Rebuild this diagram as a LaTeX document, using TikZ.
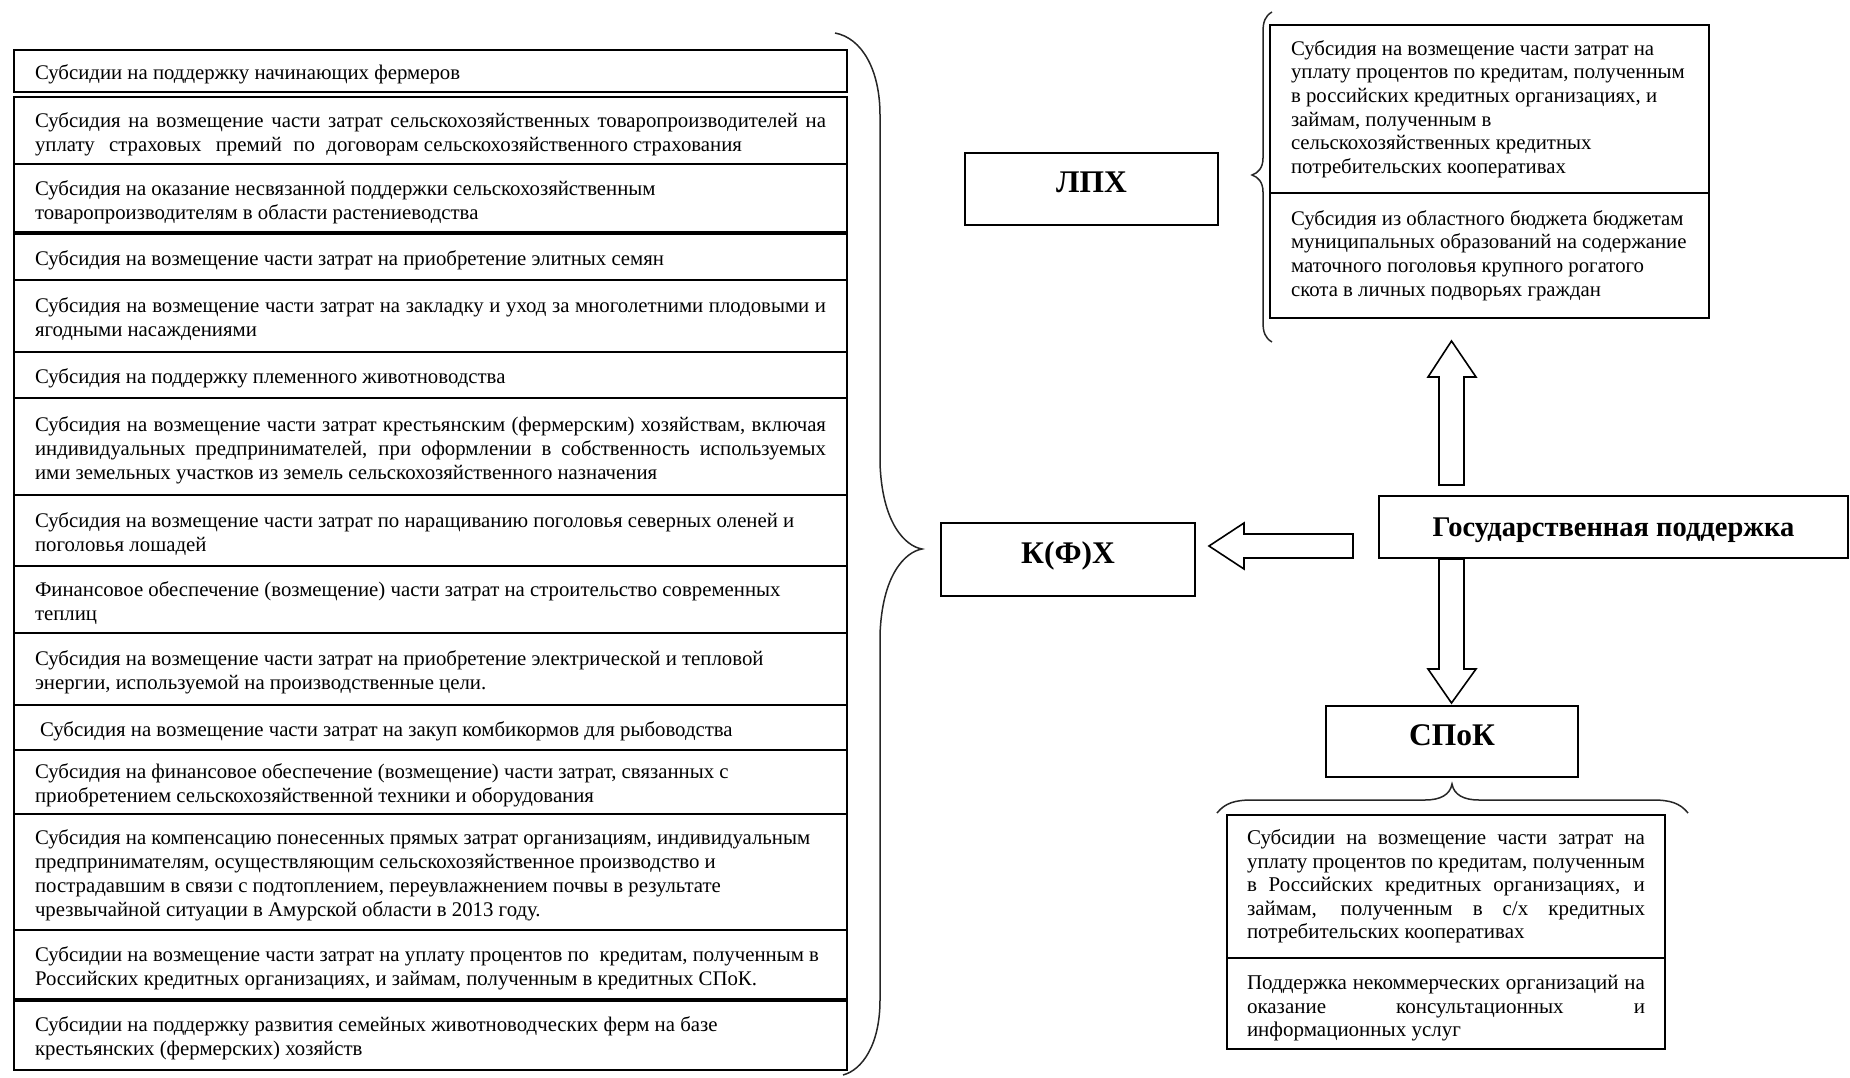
\documentclass[tikz,border=0pt]{standalone}
\usepackage{fontspec}
\setmainfont{Liberation Serif}
% justified line of given width
\newcommand{\jl}[2]{\leavevmode\hbox to #1{\spaceskip=.25em plus 1fil\relax\xspaceskip=.25em plus 1fil\relax #2}}
% natural line with ordinary word spaces
\newcommand{\nl}[1]{\leavevmode\mbox{\spaceskip=.25em\relax\xspaceskip=.25em\relax #1}}
\begin{document}
\begin{tikzpicture}[x=1pt,y=-1pt,
  every node/.style={outer sep=0pt},
  lbox/.style={draw, fill=white, line width=1.6pt, anchor=north west, inner xsep=21pt, inner ysep=0pt,
    text width=791pt, align=left, font=\fontsize{20.8}{24}\selectfont,
    execute at begin node={\rule{0pt}{22pt}}},
  rbox/.style={draw, fill=white, line width=1.6pt, anchor=north west, inner xsep=21pt, inner ysep=0pt,
    text width=397pt, align=left, font=\fontsize{20.8}{23.6}\selectfont},
  bbox/.style={draw, fill=white, line width=1.6pt, anchor=north west, inner xsep=20pt, inner ysep=0pt,
    text width=398pt, align=left, font=\fontsize{21}{23.6}\selectfont},
  labbox/.style={draw, fill=white, line width=1.6pt, anchor=north west, inner sep=0pt,
    font=\fontsize{31.5}{33}\selectfont\bfseries, text height=21pt, text depth=14pt},
  barrow/.style={draw, fill=white, line width=1.6pt, line join=miter},
  brc/.style={draw=black!85, line width=1.5pt},
  thickline/.style={line width=3.6pt}
]
\useasboundingbox (0,0) rectangle (1850,1077);

% ---------- left column ----------
\node[lbox, minimum height=42pt] (b1) at (14,50) {\nl{Субсидии на поддержку начинающих фермеров}};
\node[lbox, minimum height=67pt] (b2) at (14,97) {\jl{791pt}{Субсидия на возмещение части затрат сельскохозяйственных товаропроизводителей на}\\\leavevmode\hbox to 707pt{\spaceskip=.25em\relax уплату\hskip 6pt plus 3fil страховых\hskip 6pt plus 3fil премий\hskip 6pt plus 2fil по\hskip 6pt plus 2fil договорам сельскохозяйственного страхования}};
\node[lbox, minimum height=69pt] (b3) at (14,164) {\nl{Субсидия на оказание несвязанной поддержки сельскохозяйственным}\\\nl{товаропроизводителям в области растениеводства}};
\node[lbox, minimum height=47pt] (b4) at (14,233) {\nl{Субсидия на возмещение части затрат на приобретение элитных семян}};
\node[lbox, minimum height=72pt] (b5) at (14,280) {\jl{791pt}{Субсидия на возмещение части затрат на закладку и уход за многолетними плодовыми и}\\\nl{ягодными насаждениями}};
\node[lbox, minimum height=46pt] (b6) at (14,352) {\nl{Субсидия на поддержку племенного животноводства}};
\node[lbox, minimum height=97pt] (b7) at (14,398) {\jl{791pt}{Субсидия на возмещение части затрат крестьянским (фермерским) хозяйствам, включая}\\\jl{791pt}{индивидуальных предпринимателей, при оформлении в собственность используемых}\\\nl{ими земельных участков из земель сельскохозяйственного назначения}};
\node[lbox, minimum height=71pt] (b8) at (14,495) {\nl{Субсидия на возмещение части затрат по наращиванию поголовья северных оленей и}\\\nl{поголовья лошадей}};
\node[lbox, minimum height=67pt] (b9) at (14,566) {\nl{Финансовое обеспечение (возмещение) части затрат на строительство современных}\\\nl{теплиц}};
\node[lbox, minimum height=72pt] (b10) at (14,633) {\nl{Субсидия на возмещение части затрат на приобретение электрической и тепловой}\\\nl{энергии, используемой на производственные цели.}};
\node[lbox, minimum height=45pt] (b11) at (14,705) {\nl{\hspace{5pt}Субсидия на возмещение части затрат на закуп комбикормов для рыбоводства}};
\node[lbox, minimum height=64pt] (b12) at (14,750) {\nl{Субсидия на финансовое обеспечение (возмещение) части затрат, связанных с}\\\nl{приобретением сельскохозяйственной техники и оборудования}};
\node[lbox, minimum height=116pt] (b13) at (14,814) {\nl{Субсидия на компенсацию понесенных прямых затрат организациям, индивидуальным}\\\nl{предпринимателям, осуществляющим сельскохозяйственное производство и}\\\nl{пострадавшим в связи с подтоплением, переувлажнением почвы в результате}\\\nl{чрезвычайной ситуации в Амурской области в 2013 году.}};
\node[lbox, minimum height=70pt] (b14) at (14,930) {\nl{Субсидии на возмещение части затрат на уплату процентов по\ \ кредитам, полученным в}\\\nl{Российских кредитных организациях, и займам, полученным в кредитных СПоК.}};
\node[lbox, minimum height=70pt] (b15) at (14,1000) {\nl{Субсидии на поддержку развития семейных животноводческих ферм на базе}\\\nl{крестьянских (фермерских) хозяйств}};
\draw[thickline] (b3.south west) -- (b3.south east);
\draw[thickline] (b14.south west) -- (b14.south east);

% ---------- big left brace ----------
\draw[brc] (835,33) .. controls (862,38) and (880,70) .. (880,115)
  -- (880,463) .. controls (882,523) and (905,546) .. (922,549)
  .. controls (905,552) and (882,575) .. (880,635)
  -- (880,1000) .. controls (880,1045) and (862,1070) .. (843,1075);

% ---------- label boxes ----------
\node[labbox, minimum width=253pt, minimum height=72pt] (lph) at (965,153) {ЛПХ};
\node[labbox, minimum width=254pt, minimum height=73pt] (kfh) at (941,523) {К(Ф)Х};
\node[labbox, minimum width=252pt, minimum height=71pt] (spok) at (1326,706) {СПоК};
\node[draw, fill=white, line width=1.6pt, anchor=north west, inner sep=0pt, minimum width=469pt, minimum height=62pt,
  font=\fontsize{28.5}{30}\selectfont\bfseries, text height=19pt, text depth=0pt] (gov) at (1379,496) {\nl{Государственная поддержка}};

% ---------- right top boxes ----------
\node[rbox, minimum height=168pt] (ra) at (1270,25) {\nl{Субсидия на возмещение части затрат на}\\\nl{уплату процентов по кредитам, полученным}\\\nl{в российских кредитных организациях, и}\\\nl{займам, полученным в}\\\nl{сельскохозяйственных кредитных}\\\nl{потребительских кооперативах}};
\node[rbox, minimum height=125pt] (rb) at (1270,193) {\nl{Субсидия из областного бюджета бюджетам}\\\nl{муниципальных образований на содержание}\\\nl{маточного поголовья крупного рогатого}\\\nl{скота в личных подворьях граждан}};

% ЛПХ brace
\draw[brc] (1272,12) .. controls (1265,16) and (1263,22) .. (1263,32)
  -- (1263,158) .. controls (1263,168) and (1258,173) .. (1252,175)
  .. controls (1258,177) and (1263,182) .. (1263,192)
  -- (1263,322) .. controls (1263,332) and (1265,338) .. (1272,342);

% ---------- bottom boxes ----------
\node[bbox, minimum height=143pt] (ba) at (1227,815) {\jl{398pt}{Субсидии на возмещение части затрат на}\\\jl{398pt}{уплату процентов по кредитам, полученным}\\\jl{398pt}{в Российских кредитных организациях, и}\\\jl{398pt}{займам, полученным в с/х кредитных}\\\nl{потребительских кооперативах}};
\node[bbox, minimum height=91pt, execute at begin node={\rule{0pt}{24pt}}] (bb) at (1227,958) {\jl{398pt}{Поддержка некоммерческих организаций на}\\\jl{398pt}{оказание консультационных и}\\\nl{информационных услуг}};

% bottom brace
\draw[brc] (1217,813) .. controls (1225,803) and (1235,800) .. (1252,800)
  -- (1425,800) .. controls (1440,800) and (1450,795) .. (1452,784)
  .. controls (1454,795) and (1464,800) .. (1479,800)
  -- (1653,800) .. controls (1670,800) and (1680,803) .. (1688,813);

% ---------- block arrows ----------
\draw[barrow] (1353,534) -- (1244,534) -- (1244,523) -- (1209,546) -- (1244,569) -- (1244,558) -- (1353,558) -- cycle;
\draw[barrow] (1439,485) -- (1439,377) -- (1428,377) -- (1451.5,341) -- (1476,377) -- (1464,377) -- (1464,485) -- cycle;
\draw[barrow] (1439,559) -- (1439,669) -- (1428,669) -- (1451.5,703) -- (1476,669) -- (1464,669) -- (1464,559) -- cycle;
\end{tikzpicture}
\end{document}
